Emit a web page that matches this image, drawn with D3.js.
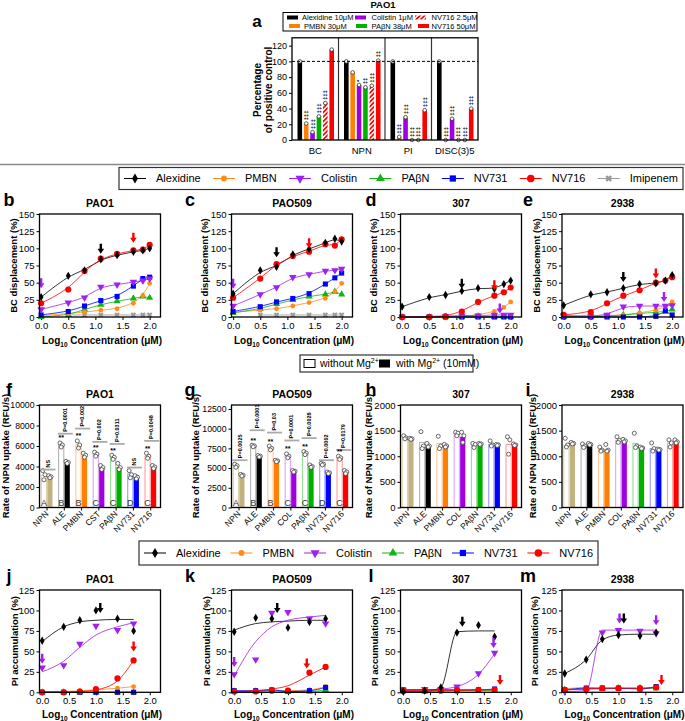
<!DOCTYPE html>
<html><head><meta charset="utf-8">
<script src="https://cdnjs.cloudflare.com/ajax/libs/d3/7.8.5/d3.min.js"></script>
<style>body{margin:0;background:#fff}svg{display:block}text{font-family:'Liberation Sans',Arial,Helvetica,sans-serif}</style>
</head><body><script>
// ================= DATA =================
// Panel a (PAO1, % of positive control)
const aCategories=["BC","NPN","PI","DISC(3)5"];
const aSeriesNames=["Alexidine 10μM","PMBN 30μM","Colistin 1μM","PAβN 38μM","NV716 2.5μM","NV716 50μM"];
const aAlexidine=[100,100,100,100];
const aPMBN=[21,86,4,0];
const aColistin=[10,70,29,27];
const aPABN=[30,67,0,0];
const aNV716low=[47,69,0,0];
const aNV716high=[115,101,38,40];
const aTicks=[0,20,40,60,80,100,120];
const aSigBC=["","‡‡‡","‡‡‡","‡‡‡","‡‡‡",""];
const aSigNPN=["","","*","‡‡","‡‡‡","‡‡"];
const aSigPI=["","‡‡‡","‡‡‡","‡‡‡","‡‡‡","‡‡‡"];
const aSigDISC=["","‡‡‡","‡‡‡","‡‡‡","‡‡‡","‡‡‡"];

const lineSeriesNames=["Alexidine","PMBN","Colistin","PAβN","NV731","NV716","Imipenem"];
// Panels b-e: BC displacement (%), x = log10 concentration
const concBC=[0,0.5,0.8,1.1,1.4,1.7,1.875,2.0];
const bcTicks=[0,25,50,75,100,125,150];
const b_Alexidine=[29,60,68,84,90,95,97,100];
const b_PMBN=[2,5,7,10,12,20,31,49];
const b_Colistin=[11,21,28,44,47,51,53,56];
const b_PABN=[0,3,11,18,23,27,30,28];
const b_NV731=[3,8,16,24,30,45,56,58];
const b_NV716=[20,40,67,85,92,97,98,105];
const b_Imipenem=[null,3,3,3,3,3,3,3];
const c_Alexidine=[34,68,73,91,99,108,114,110];
const c_PMBN=[7,10,12,16,21,27,37,49];
const c_Colistin=[16,33,43,58,62,67,68,70];
const c_PABN=[6,12,19,25,30,33,37,33];
const c_NV731=[8,15,22,27,34,48,57,64];
const c_NV716=[28,56,77,89,95,106,104,113];
const c_Imipenem=[null,3,3,3,3,3,3,3];
const d_Alexidine=[15,29,32,38,42,41,48,53];
const d_PMBN=[0,1,2,1,3,8,14,22];
const d_Colistin=[0,0,1,2,2,3,3,3];
const d_PABN=[0,0,0,0,0,0,0,0];
const d_NV731=[0,0,0,0,0,0,0,0];
const d_NV716=[0,0,1,8,22,31,36,43];
const e_Alexidine=[17,33,36,42,48,49,53,61];
const e_PMBN=[2,1,2,3,6,10,15,22];
const e_Colistin=[2,1,3,15,16,16,16,17];
const e_PABN=[0,0,1,3,5,7,8,11];
const e_NV731=[0,0,0,0,0,1,9,3];
const e_NV716=[3,7,20,31,39,50,53,58];
// arrows (series, x, tip value)
const b_arrowSeries=["Colistin","Alexidine","NV716"], b_arrowX=[0,1.1,1.7], b_arrowTip=[42,92,108];
const c_arrowSeries=["Colistin","Alexidine","NV716"], c_arrowX=[0,0.8,1.4], c_arrowTip=[41,87,100];
const d_arrowSeries=["Alexidine","NV716","Colistin"], d_arrowX=[1.1,1.7,1.8], d_arrowTip=[41,39,5];
const e_arrowSeries=["Alexidine","NV716","Colistin"], e_arrowX=[1.1,1.7,1.85], e_arrowTip=[51,56,22];

// Panels f-i: rate of NPN uptake (RFU/s)
const npnGroups_f=["NPN","ALE","PMBN","CST","PAβN","NV731","NV716"];
const npnGroups=["NPN","ALE","PMBN","COL","PAβN","NV731","NV716"];
const groupLetters=["A","B","B","C","C","D","C"];
const f_without=[3150,6100,6150,5200,4900,3250,5000];
const f_with=[3000,4400,5100,3900,3950,2950,3950];
const f_withoutReps=[[3600,3200,2700],[6300,6100,5900],[6500,6100,5800],[5400,5200,5000],[5100,4900,4700],[3600,3200,2900],[5300,5000,4800]];
const f_withReps=[[3100,3000,2900],[4500,4400,4300],[5300,5100,4900],[4100,3900,3700],[4300,3900,3700],[3100,2950,2800],[4100,3950,3800]];
const f_sigText=["NS","P=0.0001","P=0.002","P=0.002","P=0.0311","NS","P=0.0048"];
const f_sigLevel=[3700,7200,7700,6400,6200,3900,6500];
const f_ticks=[0,2000,4000,6000,8000,10000];
const g_without=[5300,7800,7600,6500,6900,5500,6300];
const g_with=[4100,6500,5900,4600,5200,4400,4500];
const g_withoutReps=[[5500,5300,5100],[7900,7800,7700],[7800,7500,7300],[6800,6500,6300],[7100,6900,6700],[5600,5500,5400],[6500,6300,6100]];
const g_withReps=[[4200,4100,4000],[6600,6500,6400],[6000,5900,5800],[4700,4600,4500],[5400,5200,5100],[4500,4400,4300],[4700,4500,4300]];
const g_sigText=["P=0.0025","P=0.0001","P=0.03","P=0.0001","P=0.0028","P=0.0002","P=0.0179"];
const g_sigLevel=[6000,9800,9500,8500,8800,6000,7300];
const g_ticks=[0,2500,5000,7500,10000,12500];
const h_without=[1370,1270,1250,1440,1220,1230,1230];
const h_with=[1340,1180,1200,1380,1230,1220,1210];
const h_withoutReps=[[1400,1360,1340],[1480,1200,1150],[1390,1200,1150],[1470,1450,1400],[1250,1230,1170],[1300,1220,1200],[1380,1320,1040]];
const h_withReps=[[1350,1340,1330],[1250,1200,1180],[1230,1200,1180],[1470,1400,1270],[1250,1240,1230],[1230,1220,1210],[1240,1220,1210]];
const i_without=[1210,1200,1130,1310,1250,1150,1250];
const i_with=[1250,1230,1140,1290,1160,1130,1270];
const i_withoutReps=[[1350,1220,1180],[1240,1200,1170],[1180,1120,1100],[1380,1310,1270],[1450,1200,1170],[1260,1150,1100],[1320,1260,1180]];
const i_withReps=[[1270,1250,1240],[1250,1230,1220],[1230,1120,1100],[1330,1300,1280],[1180,1160,1150],[1140,1130,1120],[1320,1280,1260]];
const hi_ticks=[0,500,1000,1500,2000];

// Panels j-m: PI accumulation (%)
const concPI=[0,0.4,0.7,1.0,1.4,1.7];
const piTicks=[0,25,50,75,100,125];
const j_Alexidine=[63,80,88,100,90,75];
const j_PMBN=[1,1,2,3,5,7];
const j_Colistin=[30,33,59,81,76,84];
const j_PABN=[0,0,0,0,0,0];
const j_NV731=[0,0,0,0,0,0];
const j_NV716=[0,0,1,4,17,39];
const j_fitAlexidine=[62,80,86,88,89,89];
const j_fitColistin=[25,38,55,70,80,85];
const j_fitNV716=[0,0,1,3,14,39];
const k_Alexidine=[74,91,90,79,86,90];
const k_PMBN=[1,1,2,2,3,7];
const k_Colistin=[22,40,97,98,90,84];
const k_PABN=[1,1,2,1,1,3];
const k_NV731=[2,2,3,1,2,6];
const k_NV716=[1,1,2,2,24,31];
const k_fitAlexidine=[76,84,86,87,88,88];
const k_fitColistin=[20,62,80,88,92,94];
const k_fitNV716=[1,2,4,8,21,31];
const l_Alexidine=[1,2,6,73,82,68];
const l_PMBN=[2,3,3,3,3,3];
const l_Colistin=[3,4,4,7,23,48];
const l_PABN=[1,1,2,2,2,2];
const l_NV731=[3,3,3,3,3,4];
const l_NV716=[2,2,2,2,3,3];
const l_fitAlexidine=[1,1,6,74,75,75];
const l_fitColistin=[3,3,4,7,22,47];
const m_Alexidine=[23,40,65,70,69,73];
const m_PMBN=[4,6,5,5,5,6];
const m_Colistin=[1,2,73,76,75,72];
const m_PABN=[3,4,4,5,5,5];
const m_NV731=[3,5,5,5,4,7];
const m_NV716=[3,4,5,5,5,6];
const m_fitAlexidine=[23,40,64,70,71,71];
const m_fitColistin=[1,2,76,76,76,76];
const j_arrowSeries=["Colistin","Alexidine","NV716"], j_arrowX=[0,1.08,1.7], j_arrowTip=[35,97,50];
const k_arrowSeries=["Colistin","Alexidine","NV716"], k_arrowX=[0,0.8,1.35], k_arrowTip=[31,97,29];
const l_arrowSeries=["Alexidine","Colistin","NV716"], l_arrowX=[1.1,1.68,1.8], l_arrowTip=[80,54,9];
const m_arrowSeries=["Colistin","Alexidine","Colistin","NV716"], m_arrowX=[1.02,1.1,1.7,1.8], m_arrowTip=[84,84,82,9];

// ================= STYLE =================
const FONT="'Liberation Sans', Arial, Helvetica, sans-serif";
const COL={"Alexidine":"#000000","PMBN":"#ff8c1a","Colistin":"#a020f0","PAβN":"#12b312","NV731":"#0000ff","NV716":"#ff0000","Imipenem":"#999999"};
const SYM={"Alexidine":d3.symbolDiamond,"PMBN":d3.symbolCircle,"Colistin":d3.symbolTriangle,"PAβN":d3.symbolTriangle,"NV731":d3.symbolSquare,"NV716":d3.symbolCircle,"Imipenem":d3.symbolCross};
const SYMSIZE={"Alexidine":20,"PMBN":18,"Colistin":24,"PAβN":22,"NV731":26,"NV716":30,"Imipenem":18};
const SYMROT={"Colistin":180,"Imipenem":45};
const barFill=["#c2b280","#000000","#ff8000","#a000e0","#00b000","#0000ff","#ff0000"];
const barOpen=["#ddd3ad","#b4b4b4","#ffc78f","#dba6f5","#94df94","#9a9aff","#ff9d9d"];
const PW=121;
const colX=[39.5,231.5,400.5,562];

const svg=d3.select("body").append("svg").attr("width",685).attr("height",721);
const defs=svg.append("defs");
const pat=defs.append("pattern").attr("id","hatch").attr("patternUnits","userSpaceOnUse")
  .attr("width",3.2).attr("height",3.2).attr("patternTransform","rotate(45)");
pat.append("rect").attr("width",3.2).attr("height",3.2).attr("fill","#fff");
pat.append("rect").attr("width",1.7).attr("height",3.2).attr("fill","#ff0000");

function styleAxis(g,fs){
  g.select(".domain").remove();
  g.selectAll("text").attr("font-family",FONT).attr("font-size",fs||9.5).attr("fill","#000");
  g.selectAll("line").attr("stroke","#000").attr("stroke-width",1);
}
function txt(x,y,s,o){
  o=o||{};
  const t=svg.append("text").attr("x",x).attr("y",y).text(s)
    .attr("font-size",o.size||10).attr("font-weight",o.bold?"bold":"normal")
    .attr("text-anchor",o.anchor||"start").attr("fill",o.fill||"#000");
  if(o.rot!=null) t.attr("transform",`rotate(${o.rot},${x},${y})`);
  if(o.baseline) t.attr("dominant-baseline",o.baseline);
  return t;
}
function symPath(name,size){return d3.symbol(SYM[name],size||SYMSIZE[name])();}
function drawSym(g,name,cx,cy,size){
  const r=SYMROT[name]||0;
  g.append("path").attr("d",symPath(name,size)).attr("transform",`translate(${cx},${cy}) rotate(${r})`)
   .attr("fill",COL[name]);
}
function arrow(g,cx,tip,color){
  const L=10,hw=3.3,sw=1.2,hl=5;
  g.append("path").attr("d",`M${cx-sw},${tip-L} L${cx+sw},${tip-L} L${cx+sw},${tip-hl} L${cx+hw},${tip-hl} L${cx},${tip} L${cx-hw},${tip-hl} L${cx-sw},${tip-hl} Z`).attr("fill",color);
}

// ================= PANEL a =================
(function(){
  const x0=292,x1=478,yB=140,yT=37.8;
  const y=d3.scaleLinear().domain([0,130]).range([yB,yT]);
  const sec=d3.scaleBand().domain(aCategories).range([x0,x1]);
  const inner=d3.scaleBand().domain(aSeriesNames).range([5.5,42]).paddingInner(0.28);
  const vals=[aAlexidine,aPMBN,aColistin,aPABN,aNV716low,aNV716high];
  const fills=["#000","#ff8000","#a000e0","#00b000","url(#hatch)","#ff0000"];
  const sig=[aSigBC,aSigNPN,aSigPI,aSigDISC];
  const g=svg.append("g");
  aSeriesNames.forEach((s,si)=>{
    aCategories.forEach((c,ci)=>{
      const v=vals[si][ci];
      const bx=sec(c)+inner(s);
      g.append("rect").attr("x",bx).attr("y",y(v)).attr("width",inner.bandwidth()).attr("height",y(0)-y(v)).attr("fill",fills[si]);
      g.append("circle").attr("cx",bx+inner.bandwidth()/2).attr("cy",y(v)).attr("r",1.8).attr("fill","#fff").attr("stroke","#333").attr("stroke-width",0.8);
      const st=sig[ci][si];
      if(st) g.append("text").attr("x",0).attr("y",0).text(st).attr("font-size",6).attr("font-weight","bold")
        .attr("transform",`translate(${bx+inner.bandwidth()/2+2},${y(v)-3}) rotate(-90)`).attr("fill","#000");
    });
  });
  g.append("line").attr("x1",x0).attr("x2",x1).attr("y1",y(100)).attr("y2",y(100)).attr("stroke","#000").attr("stroke-width",1).attr("stroke-dasharray","3,2");
  aCategories.slice(1).forEach(c=>g.append("line").attr("x1",sec(c)).attr("x2",sec(c)).attr("y1",yT).attr("y2",yB).attr("stroke","#333").attr("stroke-width",1.2));
  g.append("rect").attr("x",x0).attr("y",yT).attr("width",x1-x0).attr("height",yB-yT).attr("fill","none").attr("stroke","#000").attr("stroke-width",1.3);
  g.append("g").attr("transform",`translate(${x0},0)`).call(d3.axisLeft(y).tickValues(aTicks).tickSize(3).tickPadding(2)).call(a=>styleAxis(a,9));
  aCategories.forEach(c=>txt(sec(c)+sec.bandwidth()/2,154,c,{anchor:"middle",size:9.5}));
  txt(383,8,"PAO1",{anchor:"middle",bold:true,size:9.5});
  txt(257,27,"a",{anchor:"middle",bold:true,size:17});
  txt(261,90,"Percentage",{anchor:"middle",bold:true,size:10,rot:-90});
  txt(272,90,"of positive control",{anchor:"middle",bold:true,size:10,rot:-90});
  // legend
  g.append("rect").attr("x",283).attr("y",12.5).attr("width",194).attr("height",18.5).attr("fill","#fff").attr("stroke","#000").attr("stroke-width",1);
  const lg=[[287,17.5,0],[355,17.5,2],[415,17.5,4],[289,26,1],[356,26,3],[418,26,5]];
  const lx=[302,371.5,431.5,304,371.5,431.5];
  lg.forEach((d,k)=>{
    g.append("rect").attr("x",d[0]).attr("y",d[1]-2).attr("width",11).attr("height",4).attr("fill",fills[d[2]]);
    txt(lx[k],d[1]+2.6,aSeriesNames[d[2]],{size:7.5});
  });
})();

svg.append("line").attr("x1",0).attr("x2",685).attr("y1",164.5).attr("y2",164.5).attr("stroke","#888").attr("stroke-width",1.5);

// ================= LEGENDS =================
function lineLegend(bx,by,bw,bh,names){
  svg.append("rect").attr("x",bx).attr("y",by).attr("width",bw).attr("height",bh).attr("fill","#fff").attr("stroke","#333").attr("stroke-width",1.2);
  const g=svg.append("g");
  const cy=by+bh/2;
  const texts=names.map(n=>txt(0,cy+3.8,n,{size:11}));
  const widths=texts.map(t=>t.node().getComputedTextLength());
  const lineW=22,gap1=10,pad=5;
  const total=d3.sum(widths)+names.length*(lineW+gap1);
  const gap2=(bw-2*pad-total)/(names.length-1);
  let cx=bx+pad;
  names.forEach((n,i)=>{
    g.append("line").attr("x1",cx).attr("x2",cx+lineW).attr("y1",cy).attr("y2",cy).attr("stroke",COL[n]).attr("stroke-width",1);
    drawSym(g,n,cx+lineW/2,cy,SYMSIZE[n]*1.5);
    texts[i].attr("x",cx+lineW+gap1);
    cx+=lineW+gap1+widths[i]+gap2;
  });
}
lineLegend(119,167.5,564,22,lineSeriesNames);
lineLegend(139,541,459,24,lineSeriesNames.slice(0,6));

// Mg legend
svg.append("rect").attr("x",300).attr("y",355).attr("width",173).attr("height",17).attr("fill","#fff").attr("stroke","#333").attr("stroke-width",1.2);
svg.append("rect").attr("x",304).attr("y",359.5).attr("width",11).attr("height",8).attr("fill","#fff").attr("stroke","#000").attr("stroke-width",1);
(function(){
  const t=txt(320,367,"without Mg",{size:10.5});
  t.append("tspan").text("2+").attr("font-size",7).attr("dy",-4);
  svg.append("rect").attr("x",379).attr("y",359.5).attr("width",11).attr("height",8).attr("fill","#000");
  const t2=txt(396,367,"with Mg",{size:10.5});
  t2.append("tspan").text("2+").attr("font-size",7).attr("dy",-4);
  t2.append("tspan").text(" (10mM)").attr("dy",4);
})();

// ================= LINE PANELS =================
function linePanel(p){
  const x=d3.scaleLinear().domain(p.xDomain).range([p.x0,p.x0+PW]);
  const y=d3.scaleLinear().domain(p.yDomain).range([p.yBot,p.yTop]);
  const g=svg.append("g");
  g.append("g").attr("transform",`translate(${p.x0},0)`).call(d3.axisLeft(y).tickValues(p.yTicks).tickSize(3).tickPadding(2)).call(a=>styleAxis(a,9.5));
  g.append("g").attr("transform",`translate(0,${p.yBot})`).call(d3.axisBottom(x).tickValues([0,0.5,1,1.5,2]).tickFormat(d3.format(".1f")).tickSize(3).tickPadding(2)).call(a=>styleAxis(a,9.5));
  const order=["Imipenem","PAβN","PMBN","NV731","Colistin","NV716","Alexidine"];
  const ser=p.series.filter(s=>s.values);
  ser.forEach(s=>{
    const fit=(p.fits&&p.fits[s.name])||s.values;
    const pts=p.xs.map((xv,i)=>[xv,fit[i]]).filter(d=>d[1]!=null);
    g.append("path").attr("d",d3.line().x(d=>x(d[0])).y(d=>y(d[1])).curve(p.curve)(pts))
      .attr("fill","none").attr("stroke",COL[s.name]).attr("stroke-width",1).attr("stroke-opacity",0.8);
  });
  order.forEach(n=>{
    const s=ser.find(d=>d.name===n); if(!s) return;
    s.values.forEach((v,i)=>{ if(v!=null) drawSym(g,n,x(p.xs[i]),y(v)); });
  });
  p.arrows[0].forEach((n,i)=>arrow(g,x(p.arrows[1][i]),y(p.arrows[2][i]),COL[n]));
  g.append("rect").attr("x",p.x0).attr("y",p.yTop).attr("width",PW).attr("height",p.yBot-p.yTop).attr("fill","none").attr("stroke","#000").attr("stroke-width",1.3);
  txt(p.x0+PW/2,p.yTop-7,p.title,{anchor:"middle",bold:true,size:10.5});
  txt(p.letterX,p.yTop-8,p.letter,{anchor:"middle",bold:true,size:18});
  txt(p.ylabX,(p.yTop+p.yBot)/2,p.ylab,{anchor:"middle",bold:true,size:9.5,rot:-90,baseline:"central"});
  const xt=txt(p.x0+PW/2+2,p.xlabY,"Log",{anchor:"middle",bold:true,size:10});
  xt.append("tspan").text("10").attr("font-size",6.5).attr("dy",2.5);
  xt.append("tspan").text(" Concentration (μM)").attr("dy",-2.5);
}
function mk(names,arrs){return names.map((n,i)=>({name:n,values:arrs[i]}));}
const letterX=[9,190,371,528];
const titles=["PAO1","PAO509","307","2938"];
const r1=[
  {s:mk(lineSeriesNames,[b_Alexidine,b_PMBN,b_Colistin,b_PABN,b_NV731,b_NV716,b_Imipenem]),a:[b_arrowSeries,b_arrowX,b_arrowTip],l:"b",yl:13},
  {s:mk(lineSeriesNames,[c_Alexidine,c_PMBN,c_Colistin,c_PABN,c_NV731,c_NV716,c_Imipenem]),a:[c_arrowSeries,c_arrowX,c_arrowTip],l:"c",yl:204},
  {s:mk(lineSeriesNames,[d_Alexidine,d_PMBN,d_Colistin,d_PABN,d_NV731,d_NV716,null]),a:[d_arrowSeries,d_arrowX,d_arrowTip],l:"d",yl:373},
  {s:mk(lineSeriesNames,[e_Alexidine,e_PMBN,e_Colistin,e_PABN,e_NV731,e_NV716,null]),a:[e_arrowSeries,e_arrowX,e_arrowTip],l:"e",yl:536}
];
r1.forEach((r,i)=>linePanel({x0:colX[i],yTop:214,yBot:317,xDomain:[-0.03,2.2],yDomain:[0,150],yTicks:bcTicks,xs:concBC,
  series:r.s,fits:null,curve:d3.curveBasis,arrows:r.a,title:titles[i],letter:r.l,letterX:letterX[i],ylabX:r.yl,ylab:"BC displacement (%)",xlabY:344}));
const r3=[
  {s:mk(lineSeriesNames.slice(0,6),[j_Alexidine,j_PMBN,j_Colistin,j_PABN,j_NV731,j_NV716]),f:{"Alexidine":j_fitAlexidine,"Colistin":j_fitColistin,"NV716":j_fitNV716},a:[j_arrowSeries,j_arrowX,j_arrowTip],l:"j",yl:15},
  {s:mk(lineSeriesNames.slice(0,6),[k_Alexidine,k_PMBN,k_Colistin,k_PABN,k_NV731,k_NV716]),f:{"Alexidine":k_fitAlexidine,"Colistin":k_fitColistin,"NV716":k_fitNV716},a:[k_arrowSeries,k_arrowX,k_arrowTip],l:"k",yl:207},
  {s:mk(lineSeriesNames.slice(0,6),[l_Alexidine,l_PMBN,l_Colistin,l_PABN,l_NV731,l_NV716]),f:{"Alexidine":l_fitAlexidine,"Colistin":l_fitColistin},a:[l_arrowSeries,l_arrowX,l_arrowTip],l:"l",yl:375},
  {s:mk(lineSeriesNames.slice(0,6),[m_Alexidine,m_PMBN,m_Colistin,m_PABN,m_NV731,m_NV716]),f:{"Alexidine":m_fitAlexidine,"Colistin":m_fitColistin},a:[m_arrowSeries,m_arrowX,m_arrowTip],l:"m",yl:535}
];
r3.forEach((r,i)=>linePanel({x0:colX[i],yTop:590,yBot:692.3,xDomain:[-0.05,2.2],yDomain:[0,125],yTicks:piTicks,xs:concPI,
  series:r.s,fits:r.f,curve:d3.curveMonotoneX,arrows:r.a,title:titles[i],letter:r.l,letterX:letterX[i],ylabX:r.yl,ylab:"PI accumulation (%)",xlabY:718}));

// ================= BAR PANELS =================
function barPanel(p){
  const yTop=405,yBot=507.5;
  const x=d3.scaleBand().domain(p.groups).range([p.x0,p.x0+PW]);
  const y=d3.scaleLinear().domain(p.yDomain).range([yBot,yTop]);
  const g=svg.append("g");
  g.append("g").attr("transform",`translate(${p.x0},0)`).call(d3.axisLeft(y).tickValues(p.ticks).tickFormat(d=>String(d)).tickSize(3).tickPadding(2)).call(a=>styleAxis(a,p.tickFont||9.5));
  const bw=5.2,oOff=1.8,fOff=7.8;
  p.groups.forEach((grp,i)=>{
    const gx=x(grp);
    const v0=p.without[i],v1=p.withMg[i];
    g.append("rect").attr("x",gx+oOff).attr("y",y(v0)).attr("width",bw).attr("height",y(0)-y(v0)).attr("fill","#fff").attr("stroke",barOpen[i]).attr("stroke-width",1.1);
    g.append("rect").attr("x",gx+fOff).attr("y",y(v1)).attr("width",bw).attr("height",y(0)-y(v1)).attr("fill",barFill[i]);
    const offs=[-1.2,1.2,0];
    p.withoutReps[i].forEach((r,k)=>g.append("circle").attr("cx",gx+oOff+bw/2+offs[k]).attr("cy",y(r)).attr("r",2).attr("fill","#fff").attr("stroke","#444").attr("stroke-width",0.8));
    p.withReps[i].forEach((r,k)=>g.append("circle").attr("cx",gx+fOff+bw/2+offs[k]).attr("cy",y(r)).attr("r",2).attr("fill","#fff").attr("stroke","#444").attr("stroke-width",0.8));
    if(p.letters) g.append("text").attr("x",gx+oOff+bw/2).attr("y",yBot-2).text(p.letters[i]).attr("text-anchor","middle").attr("font-size",9).attr("fill","#333");
    if(p.sigText){
      const ly=y(p.sigLevel[i]);
      g.append("line").attr("x1",gx+1).attr("x2",gx+16).attr("y1",ly).attr("y2",ly).attr("stroke","#aaa").attr("stroke-width",1.8);
      g.append("text").text(p.sigText[i]).attr("font-size",5.5).attr("font-weight","bold")
        .attr("transform",`translate(${gx+10},${ly-2}) rotate(-90)`);
      if(p.sigText[i]!=="NS" && !(p.noStar&&p.noStar[i])) g.append("text").text("**").attr("font-size",7).attr("font-weight","bold")
        .attr("x",gx+oOff+bw/2).attr("y",y(d3.max(p.withoutReps[i]))-2.5).attr("text-anchor","middle");
    }
    const tx=gx+7.5;
    g.append("line").attr("x1",tx).attr("x2",tx).attr("y1",yBot).attr("y2",yBot+3).attr("stroke","#000");
    g.append("text").text(grp).attr("font-size",8.5).attr("text-anchor","end")
      .attr("transform",`translate(${tx+2},${yBot+7}) rotate(-45)`);
  });
  g.append("rect").attr("x",p.x0).attr("y",yTop).attr("width",PW).attr("height",yBot-yTop).attr("fill","none").attr("stroke","#000").attr("stroke-width",1.3);
  txt(p.x0+PW/2,398,p.title,{anchor:"middle",bold:true,size:10.5});
  txt(p.letterX,396,p.letter,{anchor:"middle",bold:true,size:18});
  txt(p.ylabX,456,"Rate of NPN uptake (RFU/s)",{anchor:"middle",bold:true,size:9.5,rot:-90,baseline:"central"});
}
barPanel({x0:colX[0],groups:npnGroups_f,yDomain:[0,10000],ticks:f_ticks,tickFont:8.7,without:f_without,withMg:f_with,withoutReps:f_withoutReps,withReps:f_withReps,letters:groupLetters,sigText:f_sigText,sigLevel:f_sigLevel,title:"PAO1",letter:"f",letterX:letterX[0],ylabX:5});
barPanel({x0:colX[1],groups:npnGroups,yDomain:[0,13000],ticks:g_ticks,tickFont:8.7,without:g_without,withMg:g_with,withoutReps:g_withoutReps,withReps:g_withReps,letters:groupLetters,sigText:g_sigText,sigLevel:g_sigLevel,noStar:[true,false,false,false,false,true,false],title:"PAO509",letter:"g",letterX:letterX[1],ylabX:195});
barPanel({x0:colX[2],groups:npnGroups,yDomain:[0,2000],ticks:hi_ticks,without:h_without,withMg:h_with,withoutReps:h_withoutReps,withReps:h_withReps,title:"307",letter:"h",letterX:letterX[2],ylabX:368});
barPanel({x0:colX[3],groups:npnGroups,yDomain:[0,2000],ticks:hi_ticks,without:i_without,withMg:i_with,withoutReps:i_withoutReps,withReps:i_withReps,title:"2938",letter:"i",letterX:letterX[3],ylabX:532});
</script></body></html>
